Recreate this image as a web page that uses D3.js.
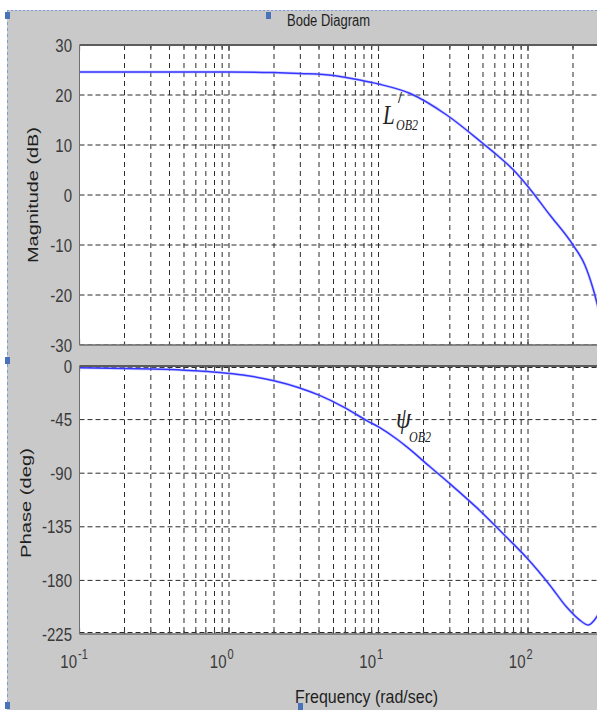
<!DOCTYPE html>
<html><head><meta charset="utf-8">
<script src="https://cdn.jsdelivr.net/npm/d3@7"></script>
<style>html,body{margin:0;padding:0;background:#fff;overflow:hidden} svg{display:block}</style>
</head><body><svg id="c" width="597" height="710"></svg>
<script>
// ---- data ----
const magFreq  = [0.1, 0.3, 1, 2, 3, 5, 7.5, 10, 16.3, 28.6, 50, 62, 80, 98, 140, 200, 240, 274, 300];
const magDb    = [24.6, 24.6, 24.6, 24.5, 24.3, 23.9, 23.0, 22.2, 20.3, 16.0, 10.3, 8.0, 5.0, 2.0, -4.0, -10.0, -14.0, -19.0, -23.5];
const phaseFreq = [0.1, 0.2, 0.3, 0.5, 0.64, 0.87, 1.24, 2, 2.9, 4, 5.85, 8.4, 10.2, 13.3, 15.4, 22.2, 30, 45, 72, 98, 140, 180, 220, 254, 275, 300];
const phaseDeg  = [-1.5, -2, -2.5, -3.5, -4.3, -5.5, -7.6, -12.4, -18, -24.5, -34.5, -46, -51.7, -61.5, -67.7, -84.8, -98.8, -118.5, -143.8, -161, -184, -202, -213, -217.5, -214, -207];
const magTicks   = [30, 20, 10, 0, -10, -20, -30];
const phaseTicks = [0, -45, -90, -135, -180, -225];
const freqDecades = [0.1, 1, 10, 100];
const decadeExp   = ["-1", "0", "1", "2"];
const titleText = "Bode Diagram";
const xLabelText = "Frequency  (rad/sec)";
const magLabelText = "Magnitude (dB)";
const phaseLabelText = "Phase (deg)";

// ---- layout ----
const svg = d3.select("#c");
const BG = "#c9c9c9";
const L = 79.5, R = 597, D = 149.5;
const SY = 1.25; // vertical stretch of the reference text
const x = d3.scaleLog().domain([0.1, 1000]).range([L, L + 4 * D]);
const yMag = d3.scaleLinear().domain([-30, 30]).range([345, 45]);
const yPh  = d3.scaleLinear().domain([-225, 0]).range([634, 366]);

svg.append("rect").attr("width", 597).attr("height", 710).attr("fill", "#fff");
svg.append("rect").attr("x", 7).attr("y", 10).attr("width", 590).attr("height", 700).attr("fill", BG);
svg.append("line").attr("x1", 7).attr("x2", 597).attr("y1", 10.5).attr("y2", 10.5)
  .attr("stroke", "#7d9bd8").attr("stroke-dasharray", "2,2");
svg.append("line").attr("x1", 7.5).attr("x2", 7.5).attr("y1", 10).attr("y2", 710)
  .attr("stroke", "#7d9bd8").attr("stroke-dasharray", "3,3");
[[5, 12], [266, 12], [5, 357], [5, 702], [298, 703]].forEach(([hx, hy]) =>
  svg.append("rect").attr("x", hx).attr("y", hy).attr("width", 5).attr("height", 7).attr("fill", "#4a72b8"));

// minor/major frequency grid values
const gridFreq = [];
for (let e = -1; e <= 2; e++) for (let k = 1; k <= 9; k++) gridFreq.push(k * Math.pow(10, e));
gridFreq.push(1000);
const isDecade = d => Math.abs(Math.log10(d) - Math.round(Math.log10(d))) < 1e-6;

function panel(id, y, ticks, fx, fy, shiftBottomGrid) {
  const [bot, top] = y.range();
  const g = svg.append("g");
  g.append("rect").attr("x", L).attr("y", top).attr("width", R - L).attr("height", bot - top).attr("fill", "#fff");
  svg.append("clipPath").attr("id", id).append("rect")
    .attr("x", L).attr("y", top).attr("width", R - L).attr("height", bot - top);
  const inner = g.append("g").attr("clip-path", `url(#${id})`);
  const gy = d => y(d) + (d === y.domain()[0] && shiftBottomGrid ? -1.5 : 0) + (d === y.domain()[1] && shiftBottomGrid ? 1.5 : 0);
  inner.selectAll("line.h").data(ticks).join("line")
    .attr("x1", L).attr("x2", R).attr("y1", gy).attr("y2", gy)
    .attr("stroke", "#2b2b2b").attr("stroke-width", 1).attr("stroke-dasharray", "5,3");
  inner.selectAll("line.v").data(gridFreq).join("line")
    .attr("x1", d => x(d)).attr("x2", d => x(d)).attr("y1", top).attr("y2", bot)
    .attr("stroke", "#2b2b2b").attr("stroke-width", 1).attr("stroke-dasharray", "5,4");
  // ticks on top/bottom edges
  inner.selectAll("line.tt").data(gridFreq).join("line")
    .attr("x1", d => x(d)).attr("x2", d => x(d))
    .attr("y1", top).attr("y2", d => top + (isDecade(d) ? 6 : 3.5))
    .attr("stroke", "#444").attr("stroke-width", 1.2);
  inner.selectAll("line.tb").data(gridFreq).join("line")
    .attr("x1", d => x(d)).attr("x2", d => x(d))
    .attr("y1", bot).attr("y2", d => bot - (isDecade(d) ? 6 : 3.5))
    .attr("stroke", "#444").attr("stroke-width", 1.2);
  const line = d3.line().x((d, i) => x(fx[i])).y((d, i) => y(fy[i])).curve(d3.curveMonotoneX);
  inner.append("path").datum(fx).attr("d", line).attr("fill", "none")
    .attr("stroke", "#aab0ff").attr("stroke-width", 3).attr("opacity", 0.5);
  inner.append("path").datum(fx).attr("d", line).attr("fill", "none")
    .attr("stroke", "#3636ff").attr("stroke-width", 1.5);
  // borders
  g.append("line").attr("x1", L).attr("x2", R).attr("y1", top).attr("y2", top).attr("stroke", "#5c5c5c").attr("stroke-width", 2);
  g.append("line").attr("x1", L).attr("x2", R).attr("y1", bot).attr("y2", bot).attr("stroke", "#6a6a6a").attr("stroke-width", 1.5);
  g.append("line").attr("x1", L).attr("x2", L).attr("y1", top).attr("y2", bot).attr("stroke", "#707070").attr("stroke-width", 1);
  // y axis labels
  const ax = svg.append("g").attr("transform", `translate(${L},0)`)
    .call(d3.axisLeft(y).tickValues(ticks).tickSize(0).tickPadding(7.5).tickFormat(d => String(d)));
  ax.select(".domain").remove();
  ax.selectAll("text").attr("font-family", "Liberation Sans, Arial, sans-serif").attr("font-size", 15)
    .attr("fill", "#3a3a3a").attr("dy", "0.33em").attr("transform", `scale(1,${SY})`);
  return g;
}

panel("cm", yMag, magTicks, magFreq, magDb, false);
panel("cp", yPh, phaseTicks, phaseFreq, phaseDeg, true);

// x axis labels 10^n
const xa = svg.append("g").attr("transform", "translate(0,668)")
  .call(d3.axisBottom(x).tickValues(freqDecades).tickSize(0).tickFormat(""));
xa.select(".domain").remove();
xa.selectAll(".tick").each(function (d, i) {
  const t = d3.select(this);
  t.append("text").attr("x", -3).attr("y", 0).attr("text-anchor", "end")
    .attr("font-family", "Liberation Sans, Arial, sans-serif").attr("font-size", 15).attr("fill", "#3a3a3a")
    .attr("transform", `scale(1,${SY})`).text("10");
  t.append("text").attr("x", -2).attr("y", -9.5 / SY).attr("text-anchor", "start")
    .attr("font-family", "Liberation Sans, Arial, sans-serif").attr("font-size", 11).attr("fill", "#3a3a3a")
    .attr("transform", `scale(1,${SY})`).text(decadeExp[i]);
});

function stretched(txt, cx, cy, size, anchor, len) {
  const t = svg.append("text").attr("transform", `translate(${cx},${cy}) scale(1,${SY})`)
    .attr("text-anchor", anchor).attr("font-family", "Liberation Sans, Arial, sans-serif")
    .attr("font-size", size).attr("fill", "#1e1e1e").text(txt);
  if (len) t.attr("textLength", len).attr("lengthAdjust", "spacingAndGlyphs");
  return t;
}
stretched(titleText, 287, 26, 13, "start", 83);
stretched(xLabelText, 295, 703, 15, "start", 143);

svg.append("text").attr("transform", "translate(38,195) rotate(-90)").attr("text-anchor", "middle")
  .attr("font-family", "Liberation Sans, Arial, sans-serif").attr("font-size", 15).attr("fill", "#1e1e1e")
  .attr("textLength", 136).attr("lengthAdjust", "spacingAndGlyphs").text(magLabelText);
svg.append("text").attr("transform", "translate(31,503) rotate(-90)").attr("text-anchor", "middle")
  .attr("font-family", "Liberation Sans, Arial, sans-serif").attr("font-size", 15).attr("fill", "#1e1e1e")
  .attr("textLength", 110).attr("lengthAdjust", "spacingAndGlyphs").text(phaseLabelText);

// curve annotations
const serif = "Liberation Serif, Times New Roman, serif";
function annot(main, mainSize, sub, mx, my, sx, sy) {
  svg.append("text").attr("transform", `translate(${mx},${my}) scale(1,${SY})`)
    .attr("font-family", serif).attr("font-style", "italic").attr("font-size", mainSize).attr("fill", "#222").text(main);
  svg.append("text").attr("transform", `translate(${sx},${sy}) scale(1,${SY})`)
    .attr("font-family", serif).attr("font-style", "italic").attr("font-size", 12).attr("fill", "#222").text(sub);
}
annot("L", 21, "OB2", 383, 124, 396, 130);
svg.append("text").attr("transform", `translate(398,103) scale(1,${SY})`)
  .attr("font-family", serif).attr("font-weight", "bold").attr("font-size", 14).attr("fill", "#222").text("/");
annot("\u03C8", 24, "OB2", 396, 428, 409, 442);
</script></body></html>
